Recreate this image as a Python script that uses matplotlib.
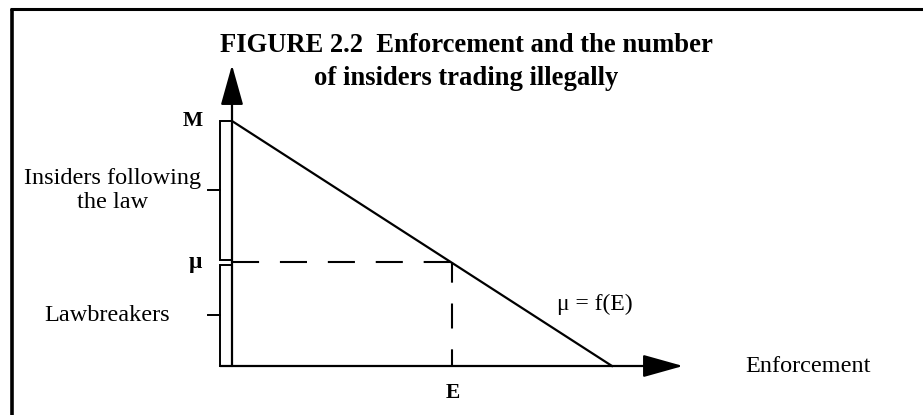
import matplotlib.pyplot as plt
from matplotlib.lines import Line2D

# values (1.0 = full scale on both axes)
f_E_x = [0.0, 1.0]      # enforcement at the two ends of mu = f(E)
f_E_y = [1.0, 0.0]      # insiders trading illegally at those ends
M = 1.0                 # all insiders
E_star = 0.58           # chosen enforcement level
mu_star = 0.424         # lawbreakers at E
segment_labels = ['Insiders following\nthe law', 'Lawbreakers']

plt.rcParams['font.family'] = ['Liberation Serif', 'DejaVu Serif']

W, H = 923, 415
fig = plt.figure(figsize=(W / 100, H / 100), dpi=100)
ax = fig.add_axes([0, 0, 1, 1])
# origin sits at pixel (232, 366); one unit is 380 px across, 245 px up
ox, oy, sx, sy = 232, 366, 380, 245
ax.set_xlim(-ox / sx, (W - ox) / sx)
ax.set_ylim(-(H - oy) / sy, oy / sy)
ax.axis('off')

lw = 1.6
bw = 12 / sx      # width of the split bar along the y axis
gap = 0.01
fs = 17.5

# split bar: lawbreakers below mu, law-abiding insiders above
ax.bar(-bw / 2, mu_star - gap, width=bw, bottom=0, fill=False,
       edgecolor='black', lw=1.4)
ax.bar(-bw / 2, M - mu_star - gap, width=bw, bottom=mu_star + gap,
       fill=False, edgecolor='black', lw=1.4)

mids = [(mu_star + gap + M) / 2, (mu_star - gap) / 2]
label_x = [113, 107]
for m, lab, lx in zip(mids, segment_labels, label_x):
    ax.plot([-bw - 12 / sx, -bw], [m, m], color='black', lw=1.4)
    ax.text((lx - ox) / sx, m, lab, ha='center', va='center',
            multialignment='center', fontsize=fs, linespacing=1.15)

# axes with arrow heads
arrow = dict(arrowstyle='-|>,head_length=25,head_width=7', mutation_scale=1,
             color='black', lw=lw, shrinkA=0, shrinkB=0)
ax.annotate('', xy=(0, (oy - 65) / sy), xytext=(0, 0), arrowprops=arrow)
ax.annotate('', xy=((683 - ox) / sx, 0), xytext=(-bw, 0), arrowprops=arrow)

# mu = f(E)
ax.plot(f_E_x, f_E_y, color='black', lw=lw)

# dashed guides to E and mu
ax.plot([0, E_star], [mu_star, mu_star], color='black', lw=1.5,
        ls=(0, (13, 10)))
ax.plot([E_star, E_star], [0, mu_star], color='black', lw=1.5,
        ls=(4, (12, 10)))

ax.text(-(ox - 203) / sx, M, 'M', ha='right', va='center',
        fontsize=15.5, weight='bold')
ax.text(-(ox - 202) / sx, mu_star, 'μ', ha='right', va='center',
        fontsize=17, weight='bold')
ax.text(E_star, -27 / sy, 'E', ha='center', va='center',
        fontsize=15.5, weight='bold')
ax.text((745 - ox) / sx, 0, 'Enforcement', ha='left', va='center',
        fontsize=fs)
ax.text((557 - ox) / sx, (oy - 304) / sy, 'μ = f(E)', ha='left', va='center',
        fontsize=17)

# title
fig.text(466 / W, 1 - 52 / H, 'FIGURE 2.2  Enforcement and the number',
         ha='center', va='baseline', fontsize=19.2, weight='bold')
fig.text(466 / W, 1 - 85 / H, 'of insiders trading illegally',
         ha='center', va='baseline', fontsize=19.2, weight='bold')

# frame (top and left edges only)
fig.add_artist(Line2D([11.5 / W, 11.5 / W], [0, 1 - 9.5 / H],
                      transform=fig.transFigure, color='black', lw=2.6,
                      solid_capstyle='butt'))
fig.add_artist(Line2D([10 / W, 1], [1 - 9.5 / H, 1 - 9.5 / H],
                      transform=fig.transFigure, color='black', lw=2.2,
                      solid_capstyle='butt'))

fig.savefig('out.png', dpi=100, facecolor='white')
